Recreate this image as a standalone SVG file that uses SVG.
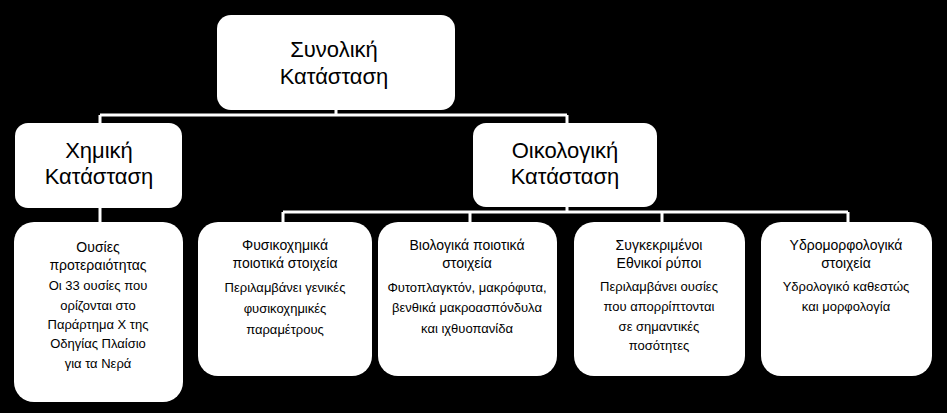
<svg xmlns="http://www.w3.org/2000/svg" width="947" height="413" viewBox="0 0 947 413">
<style>
.box{fill:#fff;stroke:none}
.t{font-family:"Liberation Sans","DejaVu Sans",sans-serif;fill:#000;text-anchor:middle}
.big{font-size:22px}
.sm{font-size:14px}
.ds{font-size:13px}
.ln{stroke:#fff;stroke-width:3;fill:none}
</style>
<rect x="0" y="0" width="947" height="413" fill="#000"/>
<g id="connectors">
<path class="ln" d="M336 110 V115 M100 115 H567 M100 115 V123 M567 115 V123"/>
<path class="ln" d="M100 208 V222"/>
<path class="ln" d="M567 207 V212 M283 212 H848 M283 212 V222 M470 212 V222 M662 212 V222 M848 212 V222"/>
</g>
<g id="n_total">
<rect class="box" x="217" y="15" width="238" height="95" rx="14"/>
<text class="t big" x="334" y="57">Συνολική</text>
<text class="t big" x="334" y="84">Κατάσταση</text>
</g>
<g id="n_chem">
<rect class="box" x="15" y="123" width="167" height="85" rx="13"/>
<text class="t big" x="99" y="158">Χημική</text>
<text class="t big" x="99" y="184">Κατάσταση</text>
</g>
<g id="n_eco">
<rect class="box" x="473" y="123" width="184" height="84" rx="13"/>
<text class="t big" x="565" y="158">Οικολογική</text>
<text class="t big" x="565" y="184">Κατάσταση</text>
</g>
<g id="n_priority">
<rect class="box" x="14" y="222" width="169" height="180" rx="20"/>
<text class="t sm" x="98" y="252">Ουσίες</text>
<text class="t sm" x="98" y="270">προτεραιότητας</text>
<text class="t ds" x="98" y="290">Οι 33 ουσίες που</text>
<text class="t ds" x="98" y="310">ορίζονται στο</text>
<text class="t ds" x="98" y="329">Παράρτημα Χ της</text>
<text class="t ds" x="98" y="348">Οδηγίας Πλαίσιο</text>
<text class="t ds" x="98" y="368">για τα Νερά</text>
</g>
<g id="n_physchem">
<rect class="box" x="198" y="222" width="174" height="154" rx="20"/>
<text class="t sm" x="285" y="250">Φυσικοχημικά</text>
<text class="t sm" x="285" y="268">ποιοτικά στοιχεία</text>
<text class="t ds" x="285" y="292">Περιλαμβάνει γενικές</text>
<text class="t ds" x="285" y="313">φυσικοχημικές</text>
<text class="t ds" x="285" y="334">παραμέτρους</text>
</g>
<g id="n_bio">
<rect class="box" x="378" y="222" width="179" height="154" rx="20"/>
<text class="t sm" x="467" y="250">Βιολογικά ποιοτικά</text>
<text class="t sm" x="467" y="268">στοιχεία</text>
<text class="t ds" x="467" y="292">Φυτοπλαγκτόν, μακρόφυτα,</text>
<text class="t ds" x="467" y="312">βενθικά μακροασπόνδυλα</text>
<text class="t ds" x="467" y="333">και ιχθυοπανίδα</text>
</g>
<g id="n_pollutants">
<rect class="box" x="574" y="222" width="171" height="154" rx="20"/>
<text class="t sm" x="659" y="250">Συγκεκριμένοι</text>
<text class="t sm" x="659" y="268">Εθνικοί ρύποι</text>
<text class="t ds" x="659" y="291">Περιλαμβάνει ουσίες</text>
<text class="t ds" x="659" y="311">που απορρίπτονται</text>
<text class="t ds" x="659" y="331">σε σημαντικές</text>
<text class="t ds" x="659" y="350">ποσότητες</text>
</g>
<g id="n_hydromorph">
<rect class="box" x="761" y="222" width="171" height="154" rx="20"/>
<text class="t sm" x="846" y="250">Υδρομορφολογικά</text>
<text class="t sm" x="846" y="268">στοιχεία</text>
<text class="t ds" x="846" y="291">Υδρολογικό καθεστώς</text>
<text class="t ds" x="846" y="311">και μορφολογία</text>
</g>
</svg>
